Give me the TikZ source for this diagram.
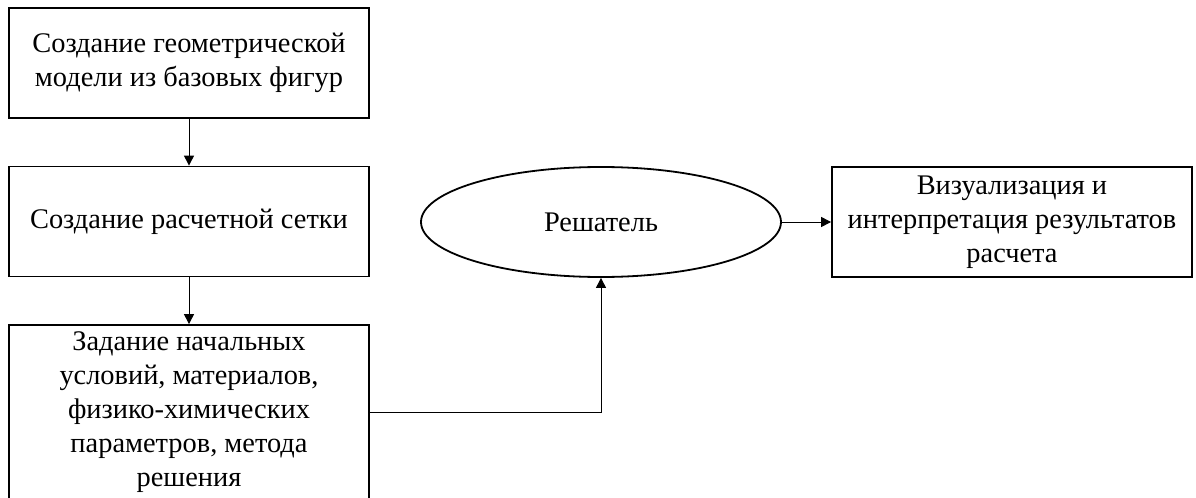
\documentclass[tikz,border=0pt]{standalone}
\usepackage{fontspec}
\setmainfont{Liberation Serif}
\usetikzlibrary{arrows.meta,shapes.geometric}
\begin{document}
\begin{tikzpicture}[x=0.5pt,y=-0.5pt,
        blok/.style={draw,line width=0.9pt,minimum width=180pt,minimum height=55pt,
            inner sep=0pt,align=center,font=\fontsize{14.2}{17}\selectfont},
        strelka/.style={-{Triangle[length=5pt,width=5pt]},line width=0.5pt}]
        \useasboundingbox (0,0) rectangle (1196,498);
        \node[blok] (geom) at (189,63) {Создание геометрической\\модели из базовых фигур};
        \node[blok] (setka) at (189,221.5) {Создание расчетной сетки};
        \node[blok,minimum height=87.5pt] (zadan) at (189,412.5) {Задание начальных\\условий, материалов,\\физико-химических\\параметров, метода\\решения};
        \node[blok,ellipse] (resh) at (601,222) {Решатель};
        \node[blok] (vizual) at (1012,222) {Визуализация и\\интерпретация результатов\\расчета};
        \draw[strelka](geom)--(setka);
        \draw[strelka](setka)--(zadan);
        \draw[strelka](zadan.east)-|(resh.south);
        \draw[strelka](resh)--(vizual);
    \end{tikzpicture}
\end{document}
